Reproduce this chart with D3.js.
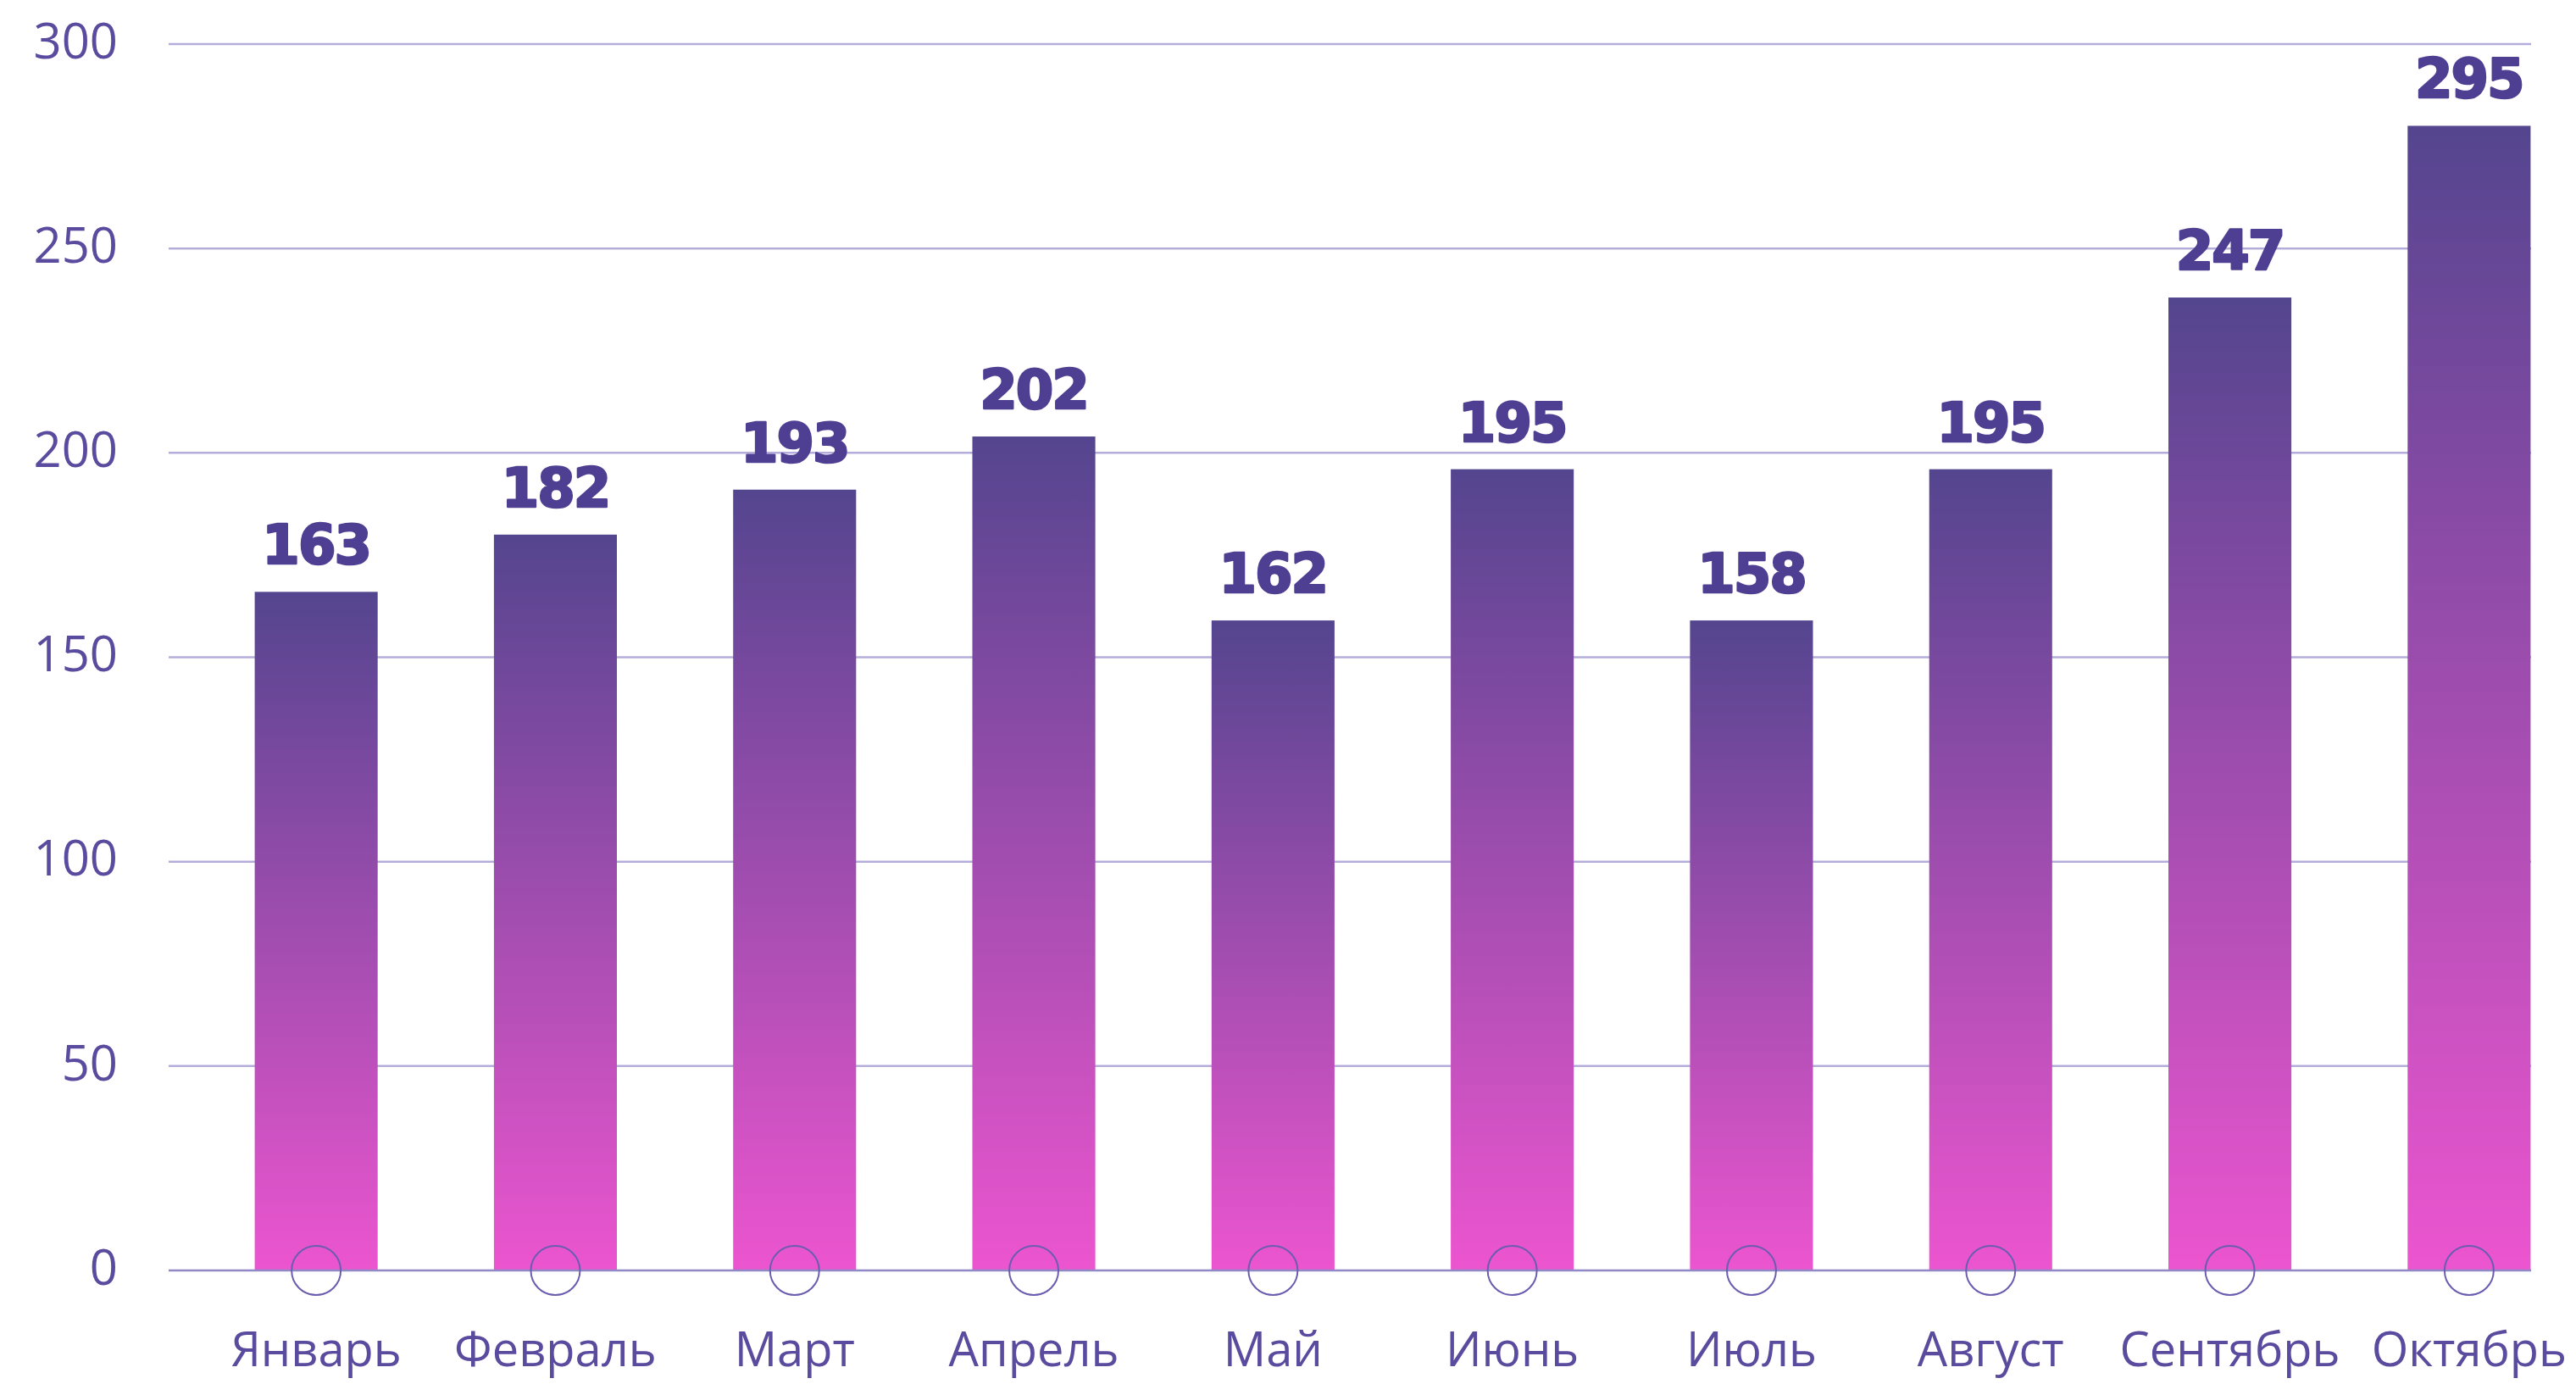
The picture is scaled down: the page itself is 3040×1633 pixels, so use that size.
<!DOCTYPE html>
<html>
<head>
<meta charset="utf-8">
<script src="https://cdn.jsdelivr.net/npm/d3@7"></script>
<style>
  html, body { margin: 0; padding: 0; background: #ffffff; }
  svg { display: block; }
</style>
</head>
<body>
<svg id="chart" width="3040" height="1633"></svg>
<script>
// ---- data ----
const months = ["Январь", "Февраль", "Март", "Апрель", "Май", "Июнь", "Июль", "Август", "Сентябрь", "Октябрь"];
const barValues = [166, 180, 191, 204, 159, 196, 159, 196, 238, 280];
const valueLabels = ["163", "182", "193", "202", "162", "195", "158", "195", "247", "295"];
const yTicks = [0, 50, 100, 150, 200, 250, 300];

// ---- layout ----
const W = 3040, H = 1633;
const gridLeft = 199, gridRight = 2987;
const y0 = 1499, yTop = 52;

const svg = d3.select("#chart");

const x = d3.scaleBand()
  .domain(months)
  .range([232, 3055])
  .paddingInner(0.486)
  .paddingOuter(0.243);

const y = d3.scaleLinear()
  .domain([0, 300])
  .range([y0, yTop]);

// gradient
const defs = svg.append("defs");
const grad = defs.append("linearGradient")
  .attr("id", "barGrad")
  .attr("x1", 0).attr("y1", 0).attr("x2", 0).attr("y2", 1);
grad.append("stop").attr("offset", "0%").attr("stop-color", "#54458f");
grad.append("stop").attr("offset", "100%").attr("stop-color", "#ec55cf");

const textColor = "#5a4b9f";

// gridlines
svg.append("g")
  .selectAll("line")
  .data(yTicks.filter(d => d !== 0))
  .join("line")
  .attr("x1", gridLeft).attr("x2", gridRight)
  .attr("y1", d => y(d)).attr("y2", d => y(d))
  .attr("stroke", "#b4addb")
  .attr("stroke-width", 2.5);

// y tick labels via axis
const yAxis = d3.axisLeft(y).tickValues(yTicks).tickSize(0).tickPadding(0);
const gy = svg.append("g")
  .attr("transform", "translate(139,0)")
  .call(yAxis);
gy.select(".domain").remove();
gy.selectAll("text")
  .attr("font-family", "'Open Sans', sans-serif")
  .attr("font-size", 58)
  .attr("font-weight", 400)
  .attr("fill", textColor)
  .attr("dy", "0.28em");

// bars
svg.append("g")
  .selectAll("rect")
  .data(months)
  .join("rect")
  .attr("x", d => x(d))
  .attr("width", x.bandwidth())
  .attr("y", (d, i) => y(barValues[i]))
  .attr("height", (d, i) => y(0) - y(barValues[i]))
  .attr("fill", "url(#barGrad)");

// baseline axis
svg.append("line")
  .attr("x1", gridLeft).attr("x2", gridRight)
  .attr("y1", y(0)).attr("y2", y(0))
  .attr("stroke", "#9189c6")
  .attr("stroke-width", 2.5);

// circles at baseline
svg.append("g")
  .selectAll("circle")
  .data(months)
  .join("circle")
  .attr("cx", d => x(d) + x.bandwidth() / 2)
  .attr("cy", y(0))
  .attr("r", 29)
  .attr("fill", "none")
  .attr("stroke", "#6a5db0")
  .attr("stroke-width", 2);

// value labels
svg.append("g")
  .selectAll("text")
  .data(months)
  .join("text")
  .attr("x", d => x(d) + x.bandwidth() / 2)
  .attr("y", (d, i) => y(barValues[i]) - 33)
  .attr("text-anchor", "middle")
  .attr("font-family", "'DejaVu Sans', sans-serif")
  .attr("font-weight", 700)
  .attr("font-size", 64)
  .attr("letter-spacing", -2)
  .attr("fill", "#4f3f92")
  .attr("stroke", "#4f3f92")
  .attr("stroke-width", 2.5)
  .attr("stroke-linejoin", "round")
  .text((d, i) => valueLabels[i]);

// x labels via axis
const xAxis = d3.axisBottom(x).tickSize(0).tickPadding(0);
const gx = svg.append("g")
  .attr("transform", "translate(0,1612)")
  .call(xAxis);
gx.select(".domain").remove();
gx.selectAll("text")
  .attr("font-family", "'Open Sans', sans-serif")
  .attr("font-size", 56)
  .attr("font-weight", 400)
  .attr("fill", textColor)
  .attr("dy", 0);
</script>
</body>
</html>
